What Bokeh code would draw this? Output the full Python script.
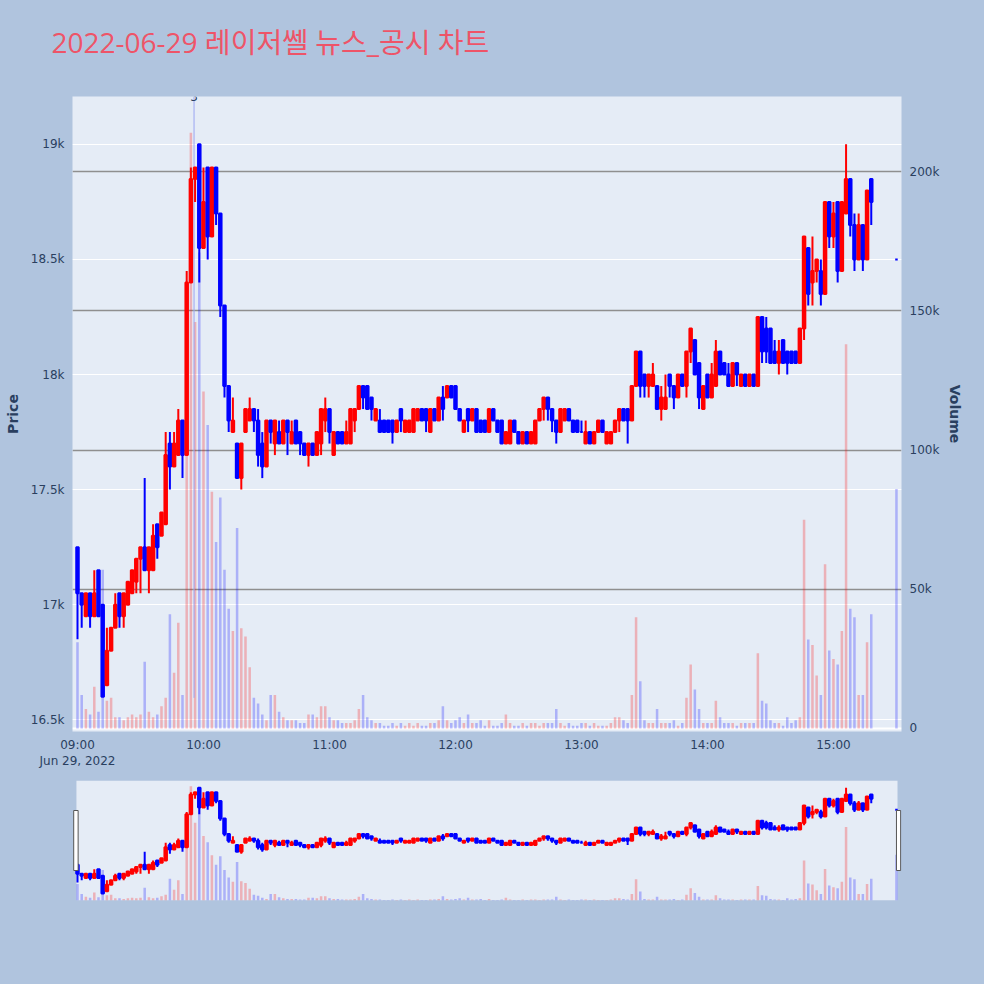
from bokeh.plotting import figure
from bokeh.models import ColumnDataSource, Range1d, LinearAxis, FixedTicker, Grid, Label, Title
from bokeh.layouts import column
from bokeh.embed import file_html
from bokeh.resources import INLINE

TITLE = "2022-06-29 레이저쎌 뉴스_공시 차트"
PRICE_LABEL = "Price"
VOLUME_LABEL = "Volume"
NEWS_TEXT = "3"
NEWS_MINUTE = 55.5

# minutes after 09:00 (2-minute candles, plus the 15:30 closing auction)
minutes = list(range(0, 380, 2)) + [390]

opens = [
    17250, 17050, 16950, 17050, 16950, 17150, 17000, 16650, 16800, 16900,
    17050, 16950, 17000, 17050, 17100, 17200, 17250, 17150, 17150, 17350,
    17300, 17350, 17700, 17600, 17650, 17800, 17650, 18400, 18850, 19000,
    18550, 18900, 18600, 18900, 18700, 18300, 17950, 17750, 17700, 17550,
    17750, 17800, 17850, 17800, 17700, 17600, 17800, 17700, 17750, 17700,
    17800, 17700, 17800, 17750, 17700, 17650, 17700, 17650, 17700, 17800,
    17850, 17650, 17750, 17750, 17700, 17700, 17800, 17850, 17950, 17950,
    17900, 17800, 17800, 17800, 17800, 17800, 17750, 17850, 17750, 17750,
    17750, 17800, 17850, 17850, 17750, 17850, 17800, 17900, 17900, 17950,
    17950, 17850, 17750, 17850, 17800, 17850, 17800, 17800, 17750, 17850,
    17800, 17800, 17700, 17700, 17800, 17750, 17700, 17750, 17700, 17700,
    17800, 17850, 17900, 17850, 17800, 17750, 17800, 17850, 17800, 17800,
    17750, 17700, 17750, 17700, 17750, 17800, 17700, 17700, 17750, 17800,
    17850, 17850, 17800, 17950, 18100, 18000, 17950, 17950, 17950, 17850,
    17850, 18000, 17950, 17900, 18000, 17950, 18100, 18150, 18050, 17850,
    18000, 17900, 17950, 18100, 18050, 18000, 17950, 18050, 17950, 18000,
    17950, 18000, 17950, 18250, 18200, 18200, 18100, 18050, 18150, 18100,
    18100, 18100, 18050, 18200, 18550, 18400, 18450, 18450, 18350, 18750,
    18600, 18750, 18450, 18700, 18850, 18650, 18500, 18650, 18500, 18850,
    18500]

highs = [
    17250, 17050, 17050, 17050, 17150, 17150, 17000, 16900, 16900, 17050,
    17050, 17050, 17100, 17150, 17200, 17250, 17550, 17250, 17350, 17350,
    17400, 17750, 17750, 17750, 17850, 17800, 18450, 18900, 18900, 19000,
    18900, 18900, 18900, 18900, 18700, 18300, 17950, 17900, 17700, 17700,
    17850, 17900, 17850, 17850, 17750, 17800, 17800, 17800, 17800, 17800,
    17800, 17800, 17800, 17750, 17700, 17700, 17700, 17750, 17850, 17900,
    17850, 17750, 17750, 17750, 17800, 17850, 17850, 17950, 17950, 17950,
    17900, 17850, 17850, 17800, 17800, 17800, 17800, 17850, 17800, 17800,
    17850, 17850, 17850, 17850, 17850, 17850, 17900, 17950, 17950, 17950,
    17950, 17850, 17800, 17850, 17850, 17850, 17800, 17800, 17850, 17850,
    17800, 17800, 17750, 17800, 17800, 17750, 17750, 17750, 17750, 17800,
    17850, 17900, 17900, 17850, 17800, 17850, 17850, 17850, 17800, 17800,
    17800, 17800, 17750, 17750, 17800, 17800, 17750, 17750, 17800, 17850,
    17850, 17850, 17950, 18100, 18100, 18000, 18000, 18050, 17950, 17950,
    18000, 18000, 17950, 18000, 18000, 18100, 18200, 18150, 18050, 17950,
    18000, 18050, 18150, 18100, 18050, 18050, 18050, 18050, 18000, 18000,
    18000, 18000, 18250, 18250, 18250, 18200, 18150, 18150, 18150, 18100,
    18100, 18100, 18200, 18600, 18550, 18600, 18500, 18500, 18750, 18750,
    18750, 18750, 18750, 19000, 18850, 18700, 18700, 18650, 18800, 18850,
    18500]

lows = [
    16850, 16900, 16950, 16900, 16950, 16950, 16600, 16650, 16800, 16900,
    16900, 16900, 17000, 17050, 17050, 17050, 17150, 17050, 17150, 17200,
    17300, 17350, 17500, 17600, 17650, 17550, 17650, 18400, 18750, 18400,
    18550, 18500, 18600, 18650, 18250, 17900, 17750, 17750, 17550, 17500,
    17750, 17800, 17750, 17600, 17550, 17600, 17700, 17650, 17700, 17700,
    17650, 17700, 17700, 17650, 17650, 17600, 17650, 17650, 17650, 17750,
    17700, 17650, 17700, 17700, 17700, 17700, 17750, 17850, 17850, 17850,
    17800, 17800, 17750, 17750, 17750, 17700, 17750, 17750, 17750, 17750,
    17750, 17800, 17800, 17750, 17750, 17800, 17800, 17800, 17900, 17900,
    17850, 17800, 17750, 17750, 17800, 17750, 17750, 17750, 17750, 17800,
    17750, 17700, 17700, 17700, 17750, 17700, 17700, 17700, 17700, 17700,
    17800, 17800, 17800, 17750, 17700, 17750, 17800, 17800, 17750, 17750,
    17750, 17700, 17700, 17700, 17750, 17750, 17700, 17700, 17750, 17750,
    17800, 17700, 17800, 17950, 17900, 17900, 17900, 17950, 17850, 17800,
    17850, 17900, 17850, 17900, 17950, 17900, 18050, 18000, 17850, 17850,
    17900, 17900, 17950, 18000, 18000, 17950, 17950, 17950, 17950, 17950,
    17950, 17950, 17950, 18050, 18050, 18050, 18050, 18000, 18050, 18000,
    18050, 18050, 18050, 18150, 18300, 18300, 18400, 18300, 18350, 18550,
    18550, 18400, 18450, 18700, 18600, 18450, 18500, 18450, 18500, 18650,
    18500]

closes = [
    17050, 17000, 17050, 16950, 17050, 16950, 16600, 16800, 16900, 17000,
    16950, 17050, 17100, 17150, 17200, 17250, 17150, 17250, 17300, 17250,
    17400, 17650, 17600, 17700, 17800, 17650, 18400, 18850, 18900, 18550,
    18750, 18600, 18900, 18700, 18300, 17950, 17800, 17800, 17550, 17700,
    17850, 17850, 17800, 17650, 17600, 17800, 17750, 17800, 17700, 17800,
    17750, 17750, 17700, 17700, 17650, 17700, 17650, 17750, 17850, 17850,
    17750, 17750, 17700, 17700, 17750, 17850, 17850, 17950, 17900, 17850,
    17850, 17850, 17750, 17750, 17750, 17750, 17800, 17800, 17800, 17800,
    17850, 17850, 17800, 17800, 17850, 17800, 17900, 17850, 17950, 17900,
    17850, 17800, 17800, 17800, 17850, 17750, 17750, 17750, 17850, 17800,
    17750, 17700, 17750, 17800, 17750, 17700, 17750, 17700, 17750, 17800,
    17850, 17900, 17850, 17800, 17750, 17850, 17850, 17800, 17750, 17750,
    17750, 17750, 17700, 17750, 17800, 17750, 17750, 17750, 17800, 17850,
    17800, 17800, 17950, 18100, 17950, 17950, 18000, 18000, 17850, 17900,
    17900, 17950, 17900, 18000, 17950, 18100, 18200, 18000, 17900, 17950,
    17900, 18000, 18100, 18000, 18000, 17950, 18050, 18000, 18000, 17950,
    18000, 17950, 18250, 18100, 18100, 18050, 18050, 18100, 18050, 18050,
    18050, 18050, 18200, 18600, 18350, 18450, 18500, 18350, 18750, 18600,
    18700, 18450, 18750, 18850, 18650, 18500, 18650, 18500, 18800, 18750,
    18500]

volumes = [
    31000, 12000, 7000, 5000, 15000, 6000, 57000, 10000, 11000, 4000,
    4000, 3000, 4000, 5000, 4000, 5000, 24000, 6000, 4000, 5000,
    8000, 11000, 41000, 20000, 38000, 12000, 140000, 214000, 146000, 171000,
    121000, 109000, 85000, 67000, 83000, 57000, 43000, 35000, 72000, 36000,
    33000, 22000, 11000, 9000, 5000, 3000, 12000, 12000, 6000, 4000,
    3000, 3000, 3000, 2000, 2000, 5000, 5000, 4000, 8000, 8000,
    4000, 3000, 3000, 2000, 2000, 2000, 3000, 7000, 12000, 4000,
    3000, 2000, 2000, 1000, 1000, 2000, 1000, 2000, 1000, 2000,
    1000, 2000, 1000, 1000, 2000, 2000, 3000, 8000, 3000, 2000,
    3000, 4000, 2000, 5000, 2000, 2000, 3000, 1000, 3000, 1000,
    1000, 2000, 5000, 2000, 1000, 1000, 2000, 1000, 2000, 2000,
    1000, 2000, 2000, 2000, 7000, 2000, 1000, 2000, 1000, 1000,
    2000, 2000, 1000, 2000, 1000, 1000, 1000, 2000, 4000, 4000,
    3000, 2000, 12000, 40000, 17000, 3000, 2000, 2000, 7000, 2000,
    2000, 2000, 3000, 1000, 2000, 11000, 23000, 14000, 7000, 2000,
    2000, 2000, 10000, 4000, 2000, 2000, 2000, 1000, 2000, 2000,
    2000, 2000, 27000, 10000, 9000, 3000, 2000, 2000, 1000, 4000,
    2000, 3000, 4000, 75000, 32000, 30000, 19000, 12000, 59000, 28000,
    25000, 23000, 35000, 138000, 43000, 40000, 12000, 12000, 31000, 41000,
    86000]

price_ticks = [16500, 17000, 17500, 18000, 18500, 19000]
price_tick_labels = ["16.5k", "17k", "17.5k", "18k", "18.5k", "19k"]
volume_ticks = [0, 50000, 100000, 150000, 200000]
volume_tick_labels = ["0", "50k", "100k", "150k", "200k"]
time_ticks = [0, 60, 120, 180, 240, 300, 360]
time_tick_labels = ["09:00\nJun 29, 2022", "10:00", "11:00", "12:00", "13:00", "14:00", "15:00"]

PAPER = "#B0C4DE"
PLOT_BG = "#E5ECF6"
UP = "#FF0000"
DOWN = "#0000FF"
TXT = "#2a3f5f"
FONT = "DejaVu Sans"

colors = [UP if c > o else DOWN for o, c in zip(opens, closes)]
src = ColumnDataSource(dict(
    t=minutes, o=opens, h=highs, l=lows, c=closes, v=volumes,
    top=[max(o, c) for o, c in zip(opens, closes)],
    bot=[min(o, c) for o, c in zip(opens, closes)],
    color=colors,
))

X0, X1 = -2.38, 392.4

# ---------------- main chart ----------------
p = figure(width=984, height=778, x_range=Range1d(X0, X1),
           y_range=Range1d(16449, 19208), output_backend="svg",
           toolbar_location=None, min_border_left=72, min_border_right=83,
           min_border_top=96, min_border_bottom=47,
           background_fill_color=PLOT_BG, border_fill_color=PAPER,
           outline_line_color=None)
p.extra_y_ranges = {"vol": Range1d(-1078, 227000)}

# spacer (nearest the frame) and the real title above it
p.title.text = ""
p.add_layout(Title(text=" ", text_font_size="10px", standoff=23), "above")
p.add_layout(Title(text=TITLE, text_font="Open Sans, Noto Sans CJK KR",
                   text_font_size="28px", text_font_style="normal",
                   text_color="#EE5468", align="left", offset=-21, standoff=0), "above")

p.xgrid.visible = False
p.ygrid.ticker = FixedTicker(ticks=price_ticks)
p.ygrid.grid_line_color = "white"
p.ygrid.grid_line_width = 1

vgrid = Grid(dimension=1, ticker=FixedTicker(ticks=volume_ticks[1:]), y_range_name="vol",
             grid_line_color="#8f8f8f", grid_line_width=1.5)
p.add_layout(vgrid)
zgrid = Grid(dimension=1, ticker=FixedTicker(ticks=[0]), y_range_name="vol",
             grid_line_color="white", grid_line_width=2)
p.add_layout(zgrid)

for ax in (p.xaxis[0], p.yaxis[0]):
    ax.major_tick_line_color = None
    ax.minor_tick_line_color = None
    ax.axis_line_color = None
    ax.major_label_text_font = FONT
    ax.major_label_text_font_size = "12px"
    ax.major_label_text_color = TXT

p.yaxis.ticker = FixedTicker(ticks=price_ticks)
p.yaxis.major_label_overrides = dict(zip(price_ticks, price_tick_labels))
p.yaxis.major_label_standoff = 2
p.yaxis.axis_label = PRICE_LABEL
p.yaxis.axis_label_text_font = FONT
p.yaxis.axis_label_text_font_size = "14px"
p.yaxis.axis_label_text_font_style = "bold"
p.yaxis.axis_label_text_color = TXT
p.yaxis.axis_label_standoff = 7

p.xaxis.ticker = FixedTicker(ticks=time_ticks)
p.xaxis.major_label_overrides = dict(zip(time_ticks, time_tick_labels))
p.xaxis.major_label_standoff = 0

vax = LinearAxis(y_range_name="vol", ticker=FixedTicker(ticks=volume_ticks),
                 major_label_overrides=dict(zip(volume_ticks, volume_tick_labels)),
                 axis_label=VOLUME_LABEL)
vax.major_tick_line_color = None
vax.minor_tick_line_color = None
vax.axis_line_color = None
vax.major_label_text_font = FONT
vax.major_label_text_font_size = "12px"
vax.major_label_text_color = TXT
vax.major_label_standoff = 2
vax.axis_label_text_font = FONT
vax.axis_label_text_font_size = "14px"
vax.axis_label_text_font_style = "bold"
vax.axis_label_text_color = TXT
vax.axis_label_standoff = 5
p.add_layout(vax, "right")

# volume bars
p.vbar(x="t", top="v", bottom=0, width=1.2, source=src, y_range_name="vol",
       fill_color="color", fill_alpha=0.25, line_color=None)
# news marker
p.segment(x0=[NEWS_MINUTE], y0=[11000], x1=[NEWS_MINUTE], y1=[227000], y_range_name="vol",
          line_color="#9aa6f2", line_width=1)
# candles
p.segment(x0="t", y0="l", x1="t", y1="h", source=src, line_color="color", line_width=2)
p.vbar(x="t", top="top", bottom="bot", width=1.2, source=src,
       fill_color="color", line_color="color", line_width=2)

p.add_layout(Label(x=NEWS_MINUTE, y=19208, text=NEWS_TEXT, text_align="center",
                   text_baseline="middle", text_font=FONT, text_font_size="12px",
                   text_color=TXT))

# ---------------- range slider ----------------
s = figure(width=984, height=206, x_range=Range1d(X0, X1), y_range=Range1d(0, 120),
           output_backend="svg", toolbar_location=None,
           x_axis_location=None, y_axis_location=None,
           min_border_left=72, min_border_right=83, min_border_top=2, min_border_bottom=84,
           background_fill_color=PAPER, border_fill_color=PAPER, outline_line_color=None)
s.grid.visible = False
s.extra_y_ranges = {"price": Range1d(16441, 19165), "vol": Range1d(0, 225000)}
s.quad(left=[-0.5], right=[390.5], bottom=[0], top=[120], fill_color=PLOT_BG, line_color=None)
s.vbar(x="t", top="v", bottom=0, width=1.2, source=src, y_range_name="vol",
       fill_color="color", fill_alpha=0.25, line_color=None)
s.segment(x0="t", y0="l", x1="t", y1="h", source=src, y_range_name="price",
          line_color="color", line_width=2)
s.vbar(x="t", top="top", bottom="bot", width=1.2, source=src, y_range_name="price",
       fill_color="color", line_color="color", line_width=2)
s.quad(left=[-1.8, 390.0], right=[0.3, 392.0], bottom=[30, 30], top=[90, 90],
       fill_color="white", line_color="#555555", line_width=1)

layout = column(p, s, spacing=0)
layout.styles = {"background-color": PAPER}
open("out.html", "w").write(file_html(layout, INLINE))
